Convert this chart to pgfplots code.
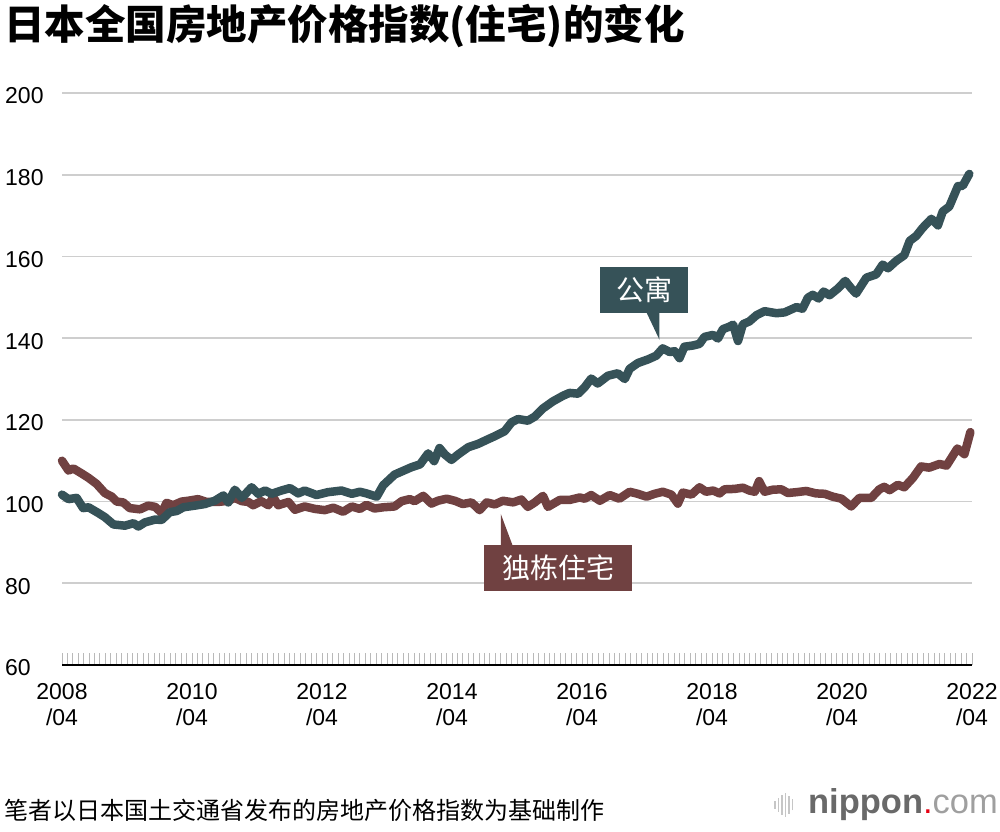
\documentclass[border=0pt]{standalone}
\usepackage{fontspec}
\setmainfont{Liberation Sans}
\newfontfamily\cjk{Noto Sans CJK SC}
\usepackage{pgfplots}
\pgfplotsset{compat=1.18}
\usepackage{pgfplotstable}

\definecolor{apt}{RGB}{54,82,88}
\definecolor{house}{RGB}{112,65,65}
\definecolor{gridgray}{RGB}{206,206,206}
\definecolor{logogray}{RGB}{105,105,105}
\definecolor{logored}{RGB}{230,0,18}

% month index (0 = 2008/04), index value
\pgfplotstableread{
m v
0 101.7
1.2 100.6
2.7 100.9
3.9 98.4
4.9 98.6
6.7 97.2
7.9 96.2
9.5 94.4
11.6 94.1
13.2 94.7
14.1 93.9
15.3 94.9
17.2 95.6
18.4 95.5
19.9 97.4
21.2 97.7
22.4 98.6
24.5 99.0
26.4 99.4
28.2 100.2
29.8 101.5
30.7 99.8
31.9 102.9
33.2 100.9
35.0 103.5
36.2 101.9
37.5 102.7
38.7 101.9
40.5 102.7
42.1 103.3
43.6 102.0
44.8 102.7
47.0 101.6
49.1 102.3
51.6 102.7
53.5 101.9
55.0 102.4
56.2 102.0
58.1 101.2
59.3 104.0
61.4 106.6
64.5 108.4
66.1 109.1
67.6 111.8
68.7 109.9
69.7 113.1
70.7 111.5
71.9 110.2
73.1 111.5
75.0 113.3
76.8 114.1
78.4 115.1
79.9 116.0
81.7 117.2
83.0 119.4
84.2 120.2
86.0 119.8
87.3 120.8
88.8 122.8
90.6 124.5
92.5 125.9
93.7 126.6
95.3 126.4
96.5 128.0
97.7 130.1
98.9 128.9
100.8 130.8
102.6 131.4
103.9 130.0
104.8 132.5
106.3 133.9
108.2 134.8
109.7 135.7
110.9 137.5
112.2 136.6
113.1 136.8
114.0 135.1
114.9 137.9
116.5 138.2
117.7 138.6
118.6 140.3
120.2 140.8
121.1 139.9
122.0 142.2
123.2 142.8
123.9 143.3
124.8 139.3
125.7 143.4
126.9 144.1
128.2 145.6
129.7 146.6
131.9 146.1
133.4 146.3
135.6 147.6
136.7 147.2
137.7 149.9
138.6 150.6
139.7 149.7
140.6 151.4
141.7 150.5
143.2 152.1
144.6 154.0
145.7 152.2
146.6 150.9
148.5 154.8
150.3 155.6
151.5 158.0
152.5 157.1
154.0 158.9
155.5 160.3
156.5 163.8
157.7 165.0
158.9 167.0
160.5 169.2
161.7 167.6
162.6 171.0
163.8 172.2
165.4 177.2
166.3 177.3
167.5 180.2
}\apartment

\pgfplotstableread{
m v
0 110.0
1.2 107.6
2.1 108.1
3.6 106.9
4.9 105.8
6.4 104.3
7.9 102.1
9.2 101.2
10.1 100.0
11.3 99.8
12.5 98.4
14.4 98.1
15.9 99.0
17.2 98.7
18.4 97.2
19.3 99.7
20.5 99.1
22.1 100.0
23.3 100.2
25.1 100.6
26.7 99.9
28.8 99.9
30.7 100.2
31.9 100.9
33.2 100.1
34.4 99.9
35.3 99.1
36.8 100.1
38.1 99.1
39.0 101.1
39.9 99.1
41.8 99.9
43.0 98.0
44.8 98.8
46.7 98.2
48.5 97.9
50.1 98.5
51.9 97.5
53.5 98.8
55.0 98.2
56.2 99.2
57.7 98.3
59.3 98.6
61.4 98.8
62.7 100.1
64.2 100.6
65.1 100.1
66.7 101.4
68.2 99.5
69.4 100.2
71.0 100.7
72.5 100.2
74.0 99.4
75.6 99.8
77.1 97.9
78.4 99.8
79.9 99.3
81.4 100.2
83.3 99.8
84.8 100.5
86.0 98.7
87.3 99.8
88.8 101.4
89.7 98.7
91.9 100.4
93.7 100.4
95.6 101.0
96.5 100.7
97.7 101.6
99.3 100.2
101.1 101.6
102.9 100.7
104.8 102.4
106.3 101.9
107.9 101.2
109.4 101.9
110.9 102.4
112.5 101.7
113.7 99.5
114.6 102.2
116.2 101.7
117.7 103.5
118.9 102.4
120.2 102.7
121.4 102.0
122.3 103.0
124.2 103.1
125.7 103.4
126.9 102.7
127.9 102.4
128.7 105.0
129.7 102.4
131.2 102.9
132.8 103.0
134.0 102.1
135.6 102.3
137.4 102.6
139.2 102.0
140.8 101.9
142.3 101.2
143.9 100.7
145.7 98.8
147.2 100.9
149.4 100.9
150.9 103.0
151.8 103.6
152.8 102.8
154.3 104.1
155.5 103.5
157.1 105.8
158.6 108.6
160.1 108.3
162.0 109.2
163.3 108.8
165.3 113.0
166.6 111.6
167.7 117.0
}\house

\begin{document}
\begin{tikzpicture}
\path[use as bounding box] (0,0) rectangle (1000bp,832bp);

\node[anchor=west, inner sep=0] at (4bp,806bp)
  {\cjk\bfseries\fontsize{40.5bp}{42bp}\selectfont 日本全国房地产价格指数(住宅)的变化};

\begin{axis}[
  at={(62bp,167bp)}, anchor=south west,
  scale only axis, width=910bp, height=572bp,
  xmin=0, xmax=168, ymin=60, ymax=200,
  clip=false,
  axis x line*=bottom, axis y line*=left,
  x axis line style={-, black, line width=2bp},
  y axis line style={draw=none},
  ytick={60,80,...,200},
  ymajorgrids,
  major grid style={gridgray, line width=1.6bp},
  xtick={0,24,...,168},
  xticklabels={{2008\\/04},{2010\\/04},{2012\\/04},{2014\\/04},{2016\\/04},{2018\\/04},{2020\\/04},{2022\\/04}},
  minor xtick={0,1,...,168},
  major tick length=0pt,
  minor tick length=12bp,
  tick align=inside,
  minor tick style={gray!55, line width=0.9bp},
  xticklabel style={align=center, inner sep=0pt, yshift=-18bp,
    font=\fontsize{23bp}{26bp}\selectfont},
  yticklabel style={anchor=west, inner sep=0pt, xshift=-57bp, yshift=-3bp,
    font=\fontsize{23bp}{26bp}\selectfont},
  /pgf/number format/assume math mode=true,
]
\addplot[house, line width=8.5bp, line join=round, line cap=round] table[x=m, y=v] {\house};
\addplot[apt, line width=8.5bp, line join=round, line cap=round] table[x=m, y=v] {\apartment};

% callouts
\fill[apt] (axis cs:99.4,146.1) rectangle (axis cs:115.6,157.5);
\fill[apt] (axis cs:107.9,146.3) -- (axis cs:110.3,139.6) -- (axis cs:110.3,146.3) -- cycle;
\node[text=white, font=\cjk\fontsize{28bp}{30bp}\selectfont] at (axis cs:107.5,151.8) {公寓};

\fill[house] (axis cs:77.9,78.0) rectangle (axis cs:105.3,89.4);
\fill[house] (axis cs:81.0,89.2) -- (axis cs:81.0,97.0) -- (axis cs:83.2,89.2) -- cycle;
\node[text=white, font=\cjk\fontsize{28bp}{30bp}\selectfont] at (axis cs:91.6,83.7) {独栋住宅};
\end{axis}

\node[anchor=west, inner sep=0] at (4bp,22bp)
  {\cjk\fontsize{24bp}{26bp}\selectfont 笔者以日本国土交通省发布的房地产价格指数为基础制作};

% logo
\foreach \x/\h in {775/8,778.5/14,782/20,785.5/24,789/18,792.5/11}
  \draw[gray!45, line width=1.6bp] (\x bp,{(27-\h/2)*1bp}) -- (\x bp,{(27+\h/2)*1bp});
\node[anchor=base east, inner sep=0] at (998bp,19bp)
  {\fontsize{34.5bp}{36bp}\selectfont\textcolor{logogray}{\bfseries nippon}\textcolor{logored}{.}\textcolor{gray!75}{com}};
\end{tikzpicture}
\end{document}
